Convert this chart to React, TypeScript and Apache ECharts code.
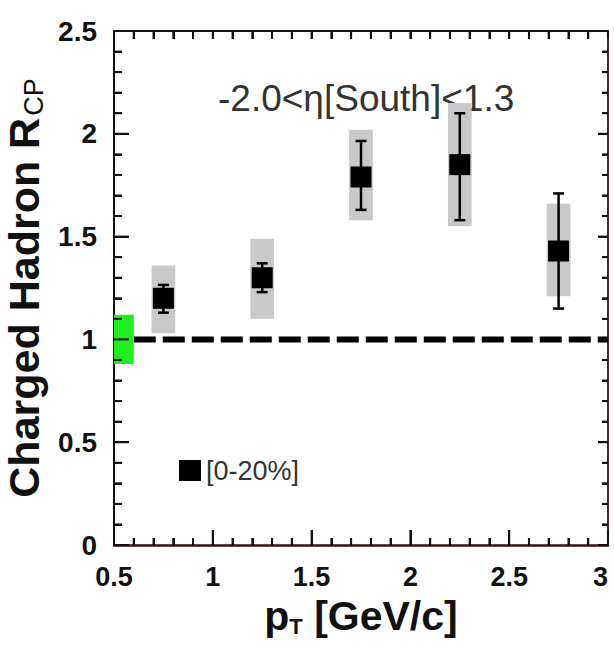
import React, { useEffect, useRef } from "react";
import * as echarts from "echarts";

// ---- data ----
const ptValues = [0.75, 1.25, 1.75, 2.25, 2.75];
const rcpValues = [1.2, 1.3, 1.79, 1.85, 1.43];
const statLow = [1.13, 1.23, 1.63, 1.58, 1.15];
const statHigh = [1.265, 1.37, 1.965, 2.1, 1.71];
const sysLow = [1.03, 1.1, 1.58, 1.55, 1.21];
const sysHigh = [1.36, 1.49, 2.02, 2.15, 1.66];
const sysHalfWidth = [0.06, 0.06, 0.06, 0.06, 0.06];
const normBoxX = [0.5, 0.6];
const normBoxY = [0.88, 1.12];
const refLineX = [0.6, 3.0];
const refLineY = 1.0;
const xRange = [0.5, 3.0];
const yRange = [0, 2.5];
const xTickValues = [
  0.5, 0.6, 0.7, 0.8, 0.9, 1.0, 1.1, 1.2, 1.3, 1.4, 1.5, 1.6, 1.7, 1.8, 1.9,
  2.0, 2.1, 2.2, 2.3, 2.4, 2.5, 2.6, 2.7, 2.8, 2.9, 3.0,
];
const yTickValues = [
  0.0, 0.1, 0.2, 0.3, 0.4, 0.5, 0.6, 0.7, 0.8, 0.9, 1.0, 1.1, 1.2, 1.3, 1.4,
  1.5, 1.6, 1.7, 1.8, 1.9, 2.0, 2.1, 2.2, 2.3, 2.4, 2.5,
];
const seriesName = "[0-20%]";
const etaText = "-2.0<\u03b7[South]<1.3";

const textFont = "'Liberation Sans', Arial, sans-serif";

const isMajor = (v: number) => Math.abs(v * 2 - Math.round(v * 2)) < 1e-6;

export default function App() {
  const ref = useRef<HTMLDivElement>(null);
  useEffect(() => {
    if (!ref.current) return;
    const chart = echarts.init(ref.current, null, { renderer: "svg" });
    const pointData = ptValues.map((x, i) => [
      x,
      rcpValues[i],
      statLow[i],
      statHigh[i],
      sysLow[i],
      sysHigh[i],
      sysHalfWidth[i],
    ]);

    // tick marks as scatter symbols placed through the axes
    const tickSeries = (name: string, data: any[]) => ({
      type: "scatter",
      name,
      xAxisIndex: 0,
      yAxisIndex: 0,
      silent: true,
      clip: false,
      symbol: "rect",
      itemStyle: { color: "#111", opacity: 1 },
      emphasis: { disabled: true },
      data,
      z: 6,
    });
    const bottomTicks = xTickValues.map((v) => {
      const l = isMajor(v) ? 15 : 7;
      return { value: [v, yRange[0]], symbolSize: [2, l], symbolOffset: [0, -l / 2] };
    });
    const topTicks = xTickValues.map((v) => ({
      value: [v, yRange[1]],
      symbolSize: [2, 8],
      symbolOffset: [0, 4],
    }));
    const leftTicks = yTickValues.map((v) => {
      const l = isMajor(v) ? 15 : 8;
      return { value: [xRange[0], v], symbolSize: [l, 2], symbolOffset: [l / 2, 0] };
    });
    const rightTicks = yTickValues.map((v) => {
      const l = isMajor(v) ? 10 : 6;
      return { value: [xRange[1], v], symbolSize: [l, 2], symbolOffset: [-l / 2, 0] };
    });

    const axisCommon = {
      type: "value",
      splitLine: { show: false },
    };
    const option: any = {
      animation: false,
      backgroundColor: "#ffffff",
      grid: {
        left: 114,
        right: 6,
        top: 31,
        bottom: 102,
        containLabel: false,
        outerBoundsMode: "none",
      },
      legend: {
        data: [{ name: seriesName, icon: "rect", itemStyle: { color: "#000" } }],
        left: 174,
        top: 452,
        itemWidth: 22,
        itemHeight: 21,
        itemGap: 8,
        textStyle: { fontSize: 27, fontFamily: textFont, color: "#333" },
        selectedMode: false,
      },
      xAxis: [
        {
          ...axisCommon,
          min: xRange[0],
          max: xRange[1],
          interval: 0.5,
          position: "bottom",
          axisLine: { show: true, onZero: false, lineStyle: { color: "#3a0c0c", width: 2.5 } },
          axisTick: { show: true, inside: true, length: 15, lineStyle: { color: "#111", width: 2 } },
          minorTick: { show: true, splitNumber: 5, length: 7, lineStyle: { color: "#111", width: 2 } },
          axisLabel: {
            margin: 18,
            fontSize: 27,
            fontWeight: "bold",
            fontFamily: textFont,
            color: "#111",
            alignMaxLabel: "right",
            formatter: (v: number) => String(v),
          },
          name: "p{sub|T} [GeV/c]",
          nameLocation: "middle",
          nameGap: 50,
          nameTextStyle: {
            fontSize: 41,
            fontWeight: "bold",
            fontFamily: textFont,
            color: "#111",
            rich: {
              sub: { fontSize: 22, fontWeight: "bold", fontFamily: textFont, color: "#111", padding: [20, 0, 0, 0] },
            },
          },
        },
        {
          ...axisCommon,
          min: xRange[0],
          max: xRange[1],
          interval: 0.5,
          position: "top",
          axisLine: { show: true, onZero: false, lineStyle: { color: "#111", width: 2 } },
          axisTick: { show: true, inside: true, length: 8, lineStyle: { color: "#111", width: 2 } },
          minorTick: { show: true, splitNumber: 5, length: 8, lineStyle: { color: "#111", width: 2 } },
          axisLabel: { show: false },
        },
      ],
      yAxis: [
        {
          ...axisCommon,
          min: yRange[0],
          max: yRange[1],
          interval: 0.5,
          position: "left",
          axisLine: { show: true, onZero: false, lineStyle: { color: "#111", width: 2 } },
          axisTick: { show: true, inside: true, length: 15, lineStyle: { color: "#111", width: 2 } },
          minorTick: { show: true, splitNumber: 5, length: 8, lineStyle: { color: "#111", width: 2 } },
          axisLabel: {
            margin: 17,
            fontSize: 28,
            fontWeight: "bold",
            fontFamily: textFont,
            color: "#111",
            padding: [0, 0, 12, 0],
            formatter: (v: number) => String(v),
          },
          name: "Charged Hadron R{sub|CP}",
          nameLocation: "middle",
          nameGap: 62,
          nameTextStyle: {
            fontSize: 43,
            fontWeight: "bold",
            fontFamily: textFont,
            color: "#111",
            rich: {
              sub: { fontSize: 27, fontWeight: "normal", fontFamily: textFont, color: "#111", padding: [20, 0, 0, 2] },
            },
          },
        },
        {
          ...axisCommon,
          min: yRange[0],
          max: yRange[1],
          interval: 0.5,
          position: "right",
          axisLine: { show: true, onZero: false, lineStyle: { color: "#6a1828", width: 2 } },
          axisTick: { show: true, inside: true, length: 10, lineStyle: { color: "#222", width: 2 } },
          minorTick: { show: true, splitNumber: 5, length: 6, lineStyle: { color: "#222", width: 2 } },
          axisLabel: { show: false },
        },
      ],
      graphic: [
        {
          type: "text",
          left: 218,
          top: 80,
          silent: true,
          style: {
            text: etaText,
            fontSize: 37,
            fontFamily: textFont,
            fill: "#333",
          },
          z: 1,
        },
      ],
      series: [
        {
          type: "line",
          name: "ref",
          xAxisIndex: 0,
          yAxisIndex: 0,
          data: [
            [refLineX[0], refLineY],
            [refLineX[1], refLineY],
          ],
          symbol: "none",
          silent: true,
          lineStyle: { color: "#000", width: 6, type: [22, 7] },
          z: 2,
        },
        {
          type: "custom",
          name: "norm",
          xAxisIndex: 0,
          yAxisIndex: 0,
          silent: true,
          data: [[normBoxX[0], normBoxY[0], normBoxX[1], normBoxY[1]]],
          renderItem: (params: any, api: any) => {
            const p1 = api.coord([api.value(0), api.value(3)]);
            const p2 = api.coord([api.value(2), api.value(1)]);
            return {
              type: "rect",
              shape: { x: p1[0], y: p1[1], width: p2[0] - p1[0], height: p2[1] - p1[1] },
              style: { fill: "#22ee22" },
            };
          },
          z: 3,
        },
        {
          type: "custom",
          name: seriesName,
          xAxisIndex: 0,
          yAxisIndex: 0,
          itemStyle: { color: "#000" },
          data: pointData,
          renderItem: (params: any, api: any) => {
            const x = api.value(0);
            const y = api.value(1);
            const hw = api.value(6);
            const c = api.coord([x, y]);
            const sTop = api.coord([x - hw, api.value(5)]);
            const sBot = api.coord([x + hw, api.value(4)]);
            const eTop = api.coord([x, api.value(3)]);
            const eBot = api.coord([x, api.value(2)]);
            const cap = 5.5;
            const sq = 21;
            return {
              type: "group",
              children: [
                {
                  type: "rect",
                  shape: { x: sTop[0], y: sTop[1], width: sBot[0] - sTop[0], height: sBot[1] - sTop[1] },
                  style: { fill: "#c9c9c9" },
                },
                {
                  type: "line",
                  shape: { x1: c[0], y1: eTop[1], x2: c[0], y2: eBot[1] },
                  style: { stroke: "#000", lineWidth: 2.5 },
                },
                {
                  type: "line",
                  shape: { x1: c[0] - cap, y1: eTop[1], x2: c[0] + cap, y2: eTop[1] },
                  style: { stroke: "#000", lineWidth: 2.5 },
                },
                {
                  type: "line",
                  shape: { x1: c[0] - cap, y1: eBot[1], x2: c[0] + cap, y2: eBot[1] },
                  style: { stroke: "#000", lineWidth: 2.5 },
                },
                {
                  type: "rect",
                  shape: { x: c[0] - sq / 2, y: c[1] - sq / 2, width: sq, height: sq },
                  style: { fill: "#000" },
                },
              ],
            };
          },
          z: 4,
        },
        tickSeries("bottomTicks", bottomTicks),
        tickSeries("topTicks", topTicks),
        tickSeries("leftTicks", leftTicks),
        tickSeries("rightTicks", rightTicks),
      ],
    };
    chart.setOption(option);
    return () => chart.dispose();
  }, []);
  return (
    <div
      ref={ref}
      style={{ position: "fixed", left: 0, top: 0, width: 614, height: 647, background: "#fff" }}
    />
  );
}
